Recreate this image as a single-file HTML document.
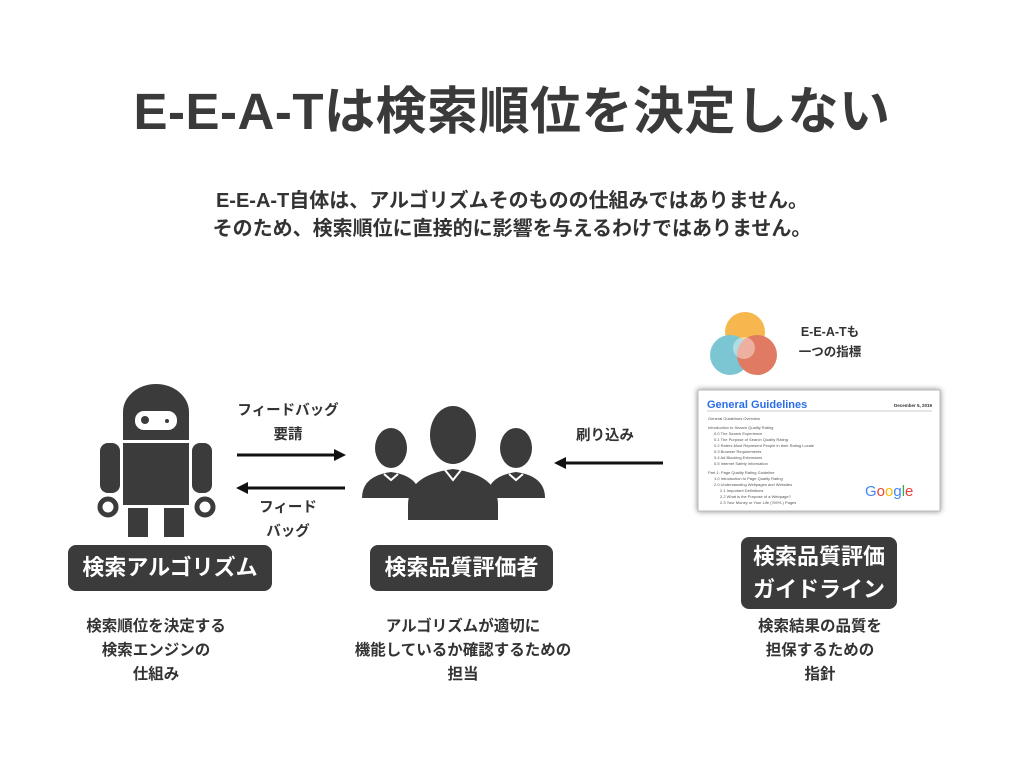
<!DOCTYPE html>
<html><head><meta charset="utf-8"><style>
body{margin:0;width:1024px;height:768px;background:#fff;position:relative;overflow:hidden;font-family:"Liberation Sans","Noto Sans CJK JP",sans-serif;color:#333;font-weight:bold}
.a{position:absolute}
.c{text-align:center}
.box{position:absolute;background:#3b3b3b;color:#fff;border-radius:8px;font-size:22px;text-align:center}
.desc{position:absolute;font-size:15.5px;line-height:24px;text-align:center;color:#333}
.lbl{position:absolute;font-size:14.5px;line-height:24px;text-align:center}
</style></head><body>
<div class="a c" style="left:0;width:1024px;top:82px;font-size:51px;line-height:60px;color:#3a3a3a;letter-spacing:0.5px">E-E-A-Tは検索順位を決定しない</div>
<div class="a c" style="left:0;width:1024px;top:187px;font-size:20px;line-height:28px;color:#333">E-E-A-T自体は、アルゴリズムそのものの仕組みではありません。<br>そのため、検索順位に直接的に影響を与えるわけではありません。</div>

<svg class="a" style="left:0;top:0" width="1024" height="768">
<g fill="#3b3b3b">
<path d="M123 440 V412 a33 28 0 0 1 66 0 V440 Z"/>
<rect x="123" y="443" width="66" height="62"/>
<rect x="100" y="443" width="20" height="50" rx="8"/>
<rect x="192" y="443" width="20" height="50" rx="8"/>
<rect x="128" y="508" width="20" height="29"/>
<rect x="164" y="508" width="20" height="29"/>
<circle cx="108" cy="507" r="8" fill="none" stroke="#3b3b3b" stroke-width="5"/>
<circle cx="205" cy="507" r="8" fill="none" stroke="#3b3b3b" stroke-width="5"/>
</g>
<rect x="135" y="411" width="42" height="19" rx="9" fill="#fff"/>
<circle cx="145" cy="420" r="4" fill="#3b3b3b"/><circle cx="167" cy="421" r="2" fill="#3b3b3b"/>
<g stroke="#111" stroke-width="3"><line x1="237" y1="455" x2="336" y2="455"/><line x1="246" y1="488" x2="345" y2="488"/><line x1="564" y1="463" x2="663" y2="463"/></g>
<g fill="#111"><polygon points="346,455 334,449 334,461"/><polygon points="236,488 248,482 248,494"/><polygon points="554,463 566,457 566,469"/></g>
<g fill="#3b3b3b">
<ellipse cx="391" cy="448" rx="16" ry="20"/><path d="M362 498 q0 -22 29 -26 q29 4 29 26 z"/>
<ellipse cx="516" cy="448" rx="16" ry="20"/><path d="M487 498 q0 -22 29 -26 q29 4 29 26 z"/>
<ellipse cx="453" cy="435" rx="23" ry="29"/><path d="M408 520 V505 q0 -30 45 -36 q45 6 45 36 V520 z"/>
</g>
<g stroke="#fff" stroke-width="2" fill="none"><path d="M445 470 l8 10 l8 -10"/><path d="M384 474 l7 6 l7 -6"/><path d="M509 474 l7 6 l7 -6"/></g>
<g opacity="0.8"><circle cx="745" cy="332" r="20" fill="#f5a623"/><circle cx="730" cy="355" r="20" fill="#5bb8c8"/><circle cx="757" cy="355" r="20" fill="#d9593b"/></g>
<circle cx="744" cy="348" r="11" fill="#fff" opacity="0.4"/>
<rect x="698" y="390" width="242" height="121" fill="#fff" stroke="#bbb" stroke-width="1" style="filter:drop-shadow(0 0 3px #888)"/>
<text x="707" y="408" font-size="11" fill="#2a6ee8" font-family="Liberation Sans">General Guidelines</text>
<text x="932" y="407" font-size="4.5" text-anchor="end" fill="#333" font-family="Liberation Sans">December 5, 2019</text>
<line x1="707" y1="411" x2="932" y2="411" stroke="#999" stroke-width="0.6"/>
<g font-size="4" fill="#555" font-family="Liberation Sans" font-weight="normal">
<text x="708" y="420">General Guidelines Overview</text><text x="708" y="429">Introduction to Search Quality Rating</text>
<text x="714" y="435">0.0 The Search Experience</text><text x="714" y="441">0.1 The Purpose of Search Quality Rating</text>
<text x="714" y="447">0.2 Raters Must Represent People in their Rating Locale</text><text x="714" y="453">0.3 Browser Requirements</text>
<text x="714" y="459">0.4 Ad Blocking Extensions</text><text x="714" y="465">0.5 Internet Safety Information</text>
<text x="708" y="474">Part 1: Page Quality Rating Guideline</text><text x="714" y="480">1.0 Introduction to Page Quality Rating</text>
<text x="714" y="486">2.0 Understanding Webpages and Websites</text><text x="720" y="492">2.1 Important Definitions</text>
<text x="720" y="498">2.2 What is the Purpose of a Webpage?</text><text x="720" y="504">2.3 Your Money or Your Life (YMYL) Pages</text>
</g>
<text x="865" y="496" font-size="15" font-family="Liberation Sans" font-weight="normal"><tspan fill="#4285f4">G</tspan><tspan fill="#ea4335">o</tspan><tspan fill="#fbbc05">o</tspan><tspan fill="#4285f4">g</tspan><tspan fill="#34a853">l</tspan><tspan fill="#ea4335">e</tspan></text>
</svg>
<div class="lbl" style="left:790px;top:322px;width:80px;font-size:12.5px;line-height:20px">E-E-A-Tも<br>一つの指標</div>
<div class="lbl" style="left:218px;top:399px;width:140px">フィードバッグ<br>要請</div>
<div class="lbl" style="left:218px;top:496px;width:140px">フィード<br>バッグ</div>
<div class="lbl" style="left:555px;top:424px;width:100px">刷り込み</div>

<div class="box" style="left:68px;top:545px;width:204px;height:46px;line-height:46px">検索アルゴリズム</div>
<div class="box" style="left:370px;top:545px;width:183px;height:46px;line-height:46px">検索品質評価者</div>
<div class="box" style="left:741px;top:537px;width:156px;height:72px;line-height:33px;padding-top:3px;box-sizing:border-box">検索品質評価<br>ガイドライン</div>

<div class="desc" style="left:46px;top:615px;width:220px">検索順位を決定する<br>検索エンジンの<br>仕組み</div>
<div class="desc" style="left:330px;top:615px;width:266px">アルゴリズムが適切に<br>機能しているか確認するための<br>担当</div>
<div class="desc" style="left:710px;top:615px;width:220px">検索結果の品質を<br>担保するための<br>指針</div>
</body></html>
